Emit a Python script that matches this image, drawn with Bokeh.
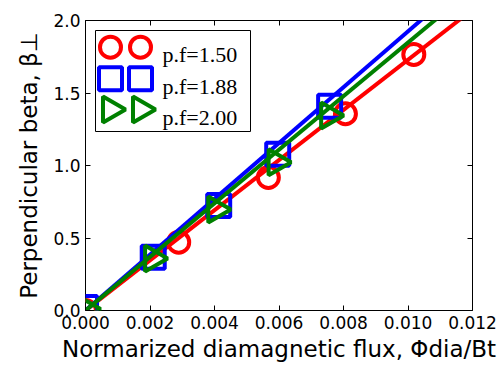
import math
from bokeh.plotting import figure
from bokeh.models import Range1d, LinearAxis, Label, FixedTicker
from bokeh.embed import file_html
from bokeh.resources import INLINE

# ---------------- data ----------------
series_labels = ["p.f=1.50", "p.f=1.88", "p.f=2.00"]
series_colors = ["#ff0000", "#0000ff", "#008000"]
series_markers = ["circle", "square", "triangle"]

x_pf150 = [0.0, 0.00289, 0.00567, 0.00806, 0.01018]
y_pf150 = [0.0, 0.471, 0.917, 1.357, 1.766]
x_pf188 = [0.0, 0.00210, 0.00413, 0.00596, 0.00757]
y_pf188 = [0.02, 0.368, 0.724, 1.078, 1.409]
x_pf200 = [0.0, 0.00208, 0.00404, 0.00591, 0.00754]
y_pf200 = [0.01, 0.359, 0.697, 1.023, 1.345]
fit_slope = [172.9, 192.5, 184.8]

x_ticks = [0.000, 0.002, 0.004, 0.006, 0.008, 0.010, 0.012]
x_tick_labels = ["0.000", "0.002", "0.004", "0.006", "0.008", "0.010", "0.012"]
y_ticks = [0.0, 0.5, 1.0, 1.5, 2.0]
y_tick_labels = ["0.0", "0.5", "1.0", "1.5", "2.0"]

x_title = "Normarized diamagnetic flux, \u03a6dia/Bt"
y_title = "Perpendicular beta, \u03b2\u22a5"

X_MIN, X_MAX = 0.0, 0.012
Y_MIN, Y_MAX = 0.0, 2.0

# ---------------- layout (px) ----------------
W, H = 504, 365
FL, FR, FT, FB = 85, 472, 20, 310  # frame edges inside the figure


def px2x(px):
    return X_MIN + (px - FL) / (FR - FL) * (X_MAX - X_MIN)


def py2y(py):
    return Y_MIN + (FB - py) / (FB - FT) * (Y_MAX - Y_MIN)


p = figure(width=W, height=H, x_range=Range1d(X_MIN, X_MAX), y_range=Range1d(Y_MIN, Y_MAX),
           output_backend="svg", toolbar_location=None,
           min_border_left=FL, min_border_right=W - FR, min_border_top=FT, min_border_bottom=H - FB)
p.grid.visible = False
p.outline_line_color = "black"
p.outline_line_width = 1
p.background_fill_color = "white"
p.border_fill_color = "white"

p.add_layout(LinearAxis(), "above")
p.add_layout(LinearAxis(), "right")

for ax in p.xaxis:
    ax.ticker = FixedTicker(ticks=x_ticks)
    ax.major_label_overrides = {t: l for t, l in zip(x_ticks, x_tick_labels)}
for ax in p.yaxis:
    ax.ticker = FixedTicker(ticks=y_ticks)
    ax.major_label_overrides = {t: l for t, l in zip(y_ticks, y_tick_labels)}

for ax in p.axis:
    ax.axis_line_color = None
    ax.major_tick_in = 5
    ax.major_tick_out = 0
    ax.major_tick_line_color = "black"
    ax.major_tick_line_width = 1
    ax.minor_tick_line_color = None
    ax.major_label_text_font = "DejaVu Sans"
    ax.major_label_text_font_size = "17px"
    ax.major_label_text_color = "black"
    ax.major_label_standoff = 5
    ax.axis_label_text_font = "DejaVu Sans"
    ax.axis_label_text_font_size = "23px"
    ax.axis_label_text_font_style = "normal"
    ax.axis_label_text_color = "black"

for ax in (p.above[0], p.right[0]):
    ax.major_label_text_color = None
    ax.major_label_text_font_size = "1px"
    ax.major_label_standoff = 0

p.below[0].axis_label = x_title
p.below[0].axis_label_standoff = 4
p.left[0].axis_label = y_title
p.left[0].axis_label_standoff = 8

xs = [x_pf150, x_pf188, x_pf200]
ys = [y_pf150, y_pf188, y_pf200]
angles = [0.0, 0.0, -math.pi / 2]
sizes = [21, 23, 26]

for x, y, col, mk, ang, sz, k in zip(xs, ys, series_colors, series_markers, angles, sizes, fit_slope):
    p.scatter(x=x, y=y, marker=mk, size=sz, angle=ang, fill_color=None,
              line_color=col, line_width=4)
    p.line(x=[X_MIN, X_MAX], y=[k * X_MIN, k * X_MAX], line_color=col, line_width=4)

# ---------------- legend ----------------
lb = p.quad(left=[px2x(95)], right=[px2x(250)], top=[py2y(30)], bottom=[py2y(131)],
            fill_color="white", fill_alpha=1.0, line_color="black", line_width=1)
lb.level = "overlay"

row_marker_y = [46.7, 78.3, 109.0]
row_text_y = [54.0, 86.0, 117.0]
for lab, col, mk, ang, sz, ry, ty in zip(series_labels, series_colors, series_markers, angles, sizes,
                                         row_marker_y, row_text_y):
    r = p.scatter(x=[px2x(110), px2x(140)], y=[py2y(ry), py2y(ry)], marker=mk, size=sz, angle=ang,
                  fill_color=None, line_color=col, line_width=4)
    r.level = "overlay"
    p.add_layout(Label(x=162 - FL, y=FB - ty, x_units="screen", y_units="screen", text=lab,
                       text_font="Liberation Serif", text_font_size="22px", text_color="black",
                       text_baseline="alphabetic", text_align="left", level="overlay"))

open("out.html", "w").write(file_html(p, INLINE))
